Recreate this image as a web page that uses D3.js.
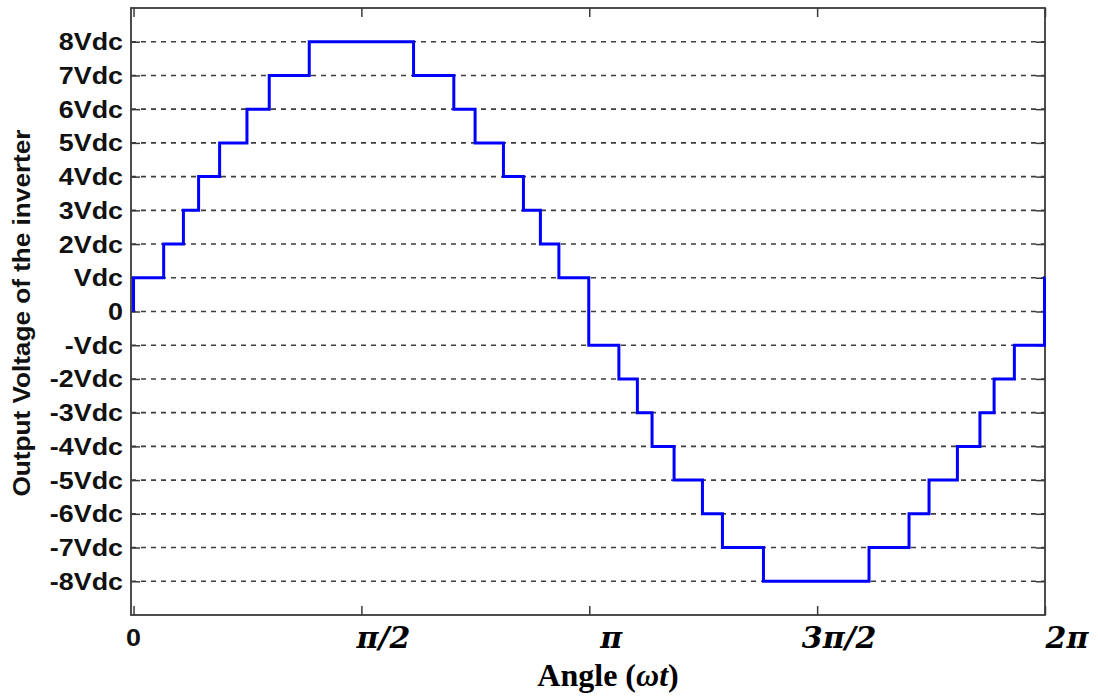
<!DOCTYPE html>
<html>
<head>
<meta charset="utf-8">
<script src="https://cdn.jsdelivr.net/npm/d3@7"></script>
<style>
  html, body { margin: 0; padding: 0; background: #fff; }
  svg { display: block; }
</style>
</head>
<body>
<svg id="chart" width="1098" height="699"></svg>
<script>
// ---- data ----
// switching angles (degrees) where the output level changes, and the level held after each
const switchAngles = [0, 0, 11.9, 19.7, 25.7, 34.0, 44.8, 53.6, 69.4,
  110.6, 126.5, 134.9, 146.1, 154.0, 160.7, 168.0, 179.8,
  191.7, 199.0, 204.8, 213.5, 224.7, 232.6, 248.8,
  290.5, 306.3, 314.2, 325.4, 334.3, 339.9, 347.9, 359.8, 360];
const levels = [0, 1, 2, 3, 4, 5, 6, 7, 8,
  7, 6, 5, 4, 3, 2, 1, -1,
  -2, -3, -4, -5, -6, -7, -8,
  -7, -6, -5, -4, -3, -2, -1, 1, 1];

const xTickValues = [0, 90, 180, 270, 360];
const xTickLabels = ["0", "π/2", "π", "3π/2", "2π"];
const yTickValues = [8, 7, 6, 5, 4, 3, 2, 1, 0, -1, -2, -3, -4, -5, -6, -7, -8];
const yTickLabels = ["8Vdc", "7Vdc", "6Vdc", "5Vdc", "4Vdc", "3Vdc", "2Vdc", "Vdc", "0",
  "-Vdc", "-2Vdc", "-3Vdc", "-4Vdc", "-5Vdc", "-6Vdc", "-7Vdc", "-8Vdc"];
const xTitle = "Angle";
const yTitle = "Output Voltage of the inverter";

// ---- layout ----
const L = 131, R = 1045, T = 8, B = 615;
const svg = d3.select("#chart");

const x = d3.scaleLinear().domain([-1, 360]).range([L, R]);
const y = d3.scaleLinear().domain([-9, 9]).range([B, T]);

const axisColor = "#3a3a3a";

// grid lines (dashed)
svg.append("g").selectAll("line").data(yTickValues).join("line")
  .attr("x1", L).attr("x2", R)
  .attr("y1", d => y(d)).attr("y2", d => y(d))
  .attr("stroke", "#3c3c3c").attr("stroke-width", 1.6)
  .attr("stroke-dasharray", "5,5");

// axes with inward ticks
const tick = 9;
svg.append("g").attr("transform", `translate(0,${B})`)
  .call(d3.axisBottom(x).tickValues(xTickValues).tickSizeInner(-tick).tickSizeOuter(0).tickFormat(""));
svg.append("g").attr("transform", `translate(0,${T})`)
  .call(d3.axisTop(x).tickValues(xTickValues).tickSizeInner(-tick).tickSizeOuter(0).tickFormat(""));
svg.append("g").attr("transform", `translate(${L},0)`)
  .call(d3.axisLeft(y).tickValues(yTickValues).tickSizeInner(-tick).tickSizeOuter(0).tickFormat(""));
svg.append("g").attr("transform", `translate(${R},0)`)
  .call(d3.axisRight(y).tickValues(yTickValues).tickSizeInner(-tick).tickSizeOuter(0).tickFormat(""));
svg.selectAll(".domain").remove();
svg.selectAll(".tick line").attr("stroke", axisColor).attr("stroke-width", 1.5);

// frame
svg.append("rect").attr("x", L).attr("y", T).attr("width", R - L).attr("height", B - T)
  .attr("fill", "none").attr("stroke", axisColor).attr("stroke-width", 1.8);

// step waveform
const pts = switchAngles.map((a, i) => [a, levels[i]]);
const line = d3.line().x(d => x(d[0])).y(d => y(d[1])).curve(d3.curveStepAfter);
svg.append("path").datum(pts)
  .attr("d", line)
  .attr("fill", "none").attr("stroke", "#0000ff").attr("stroke-width", 3)
  .attr("stroke-linejoin", "miter");

// y tick labels (bold sans, slightly wide)
svg.append("g").selectAll("text").data(yTickValues).join("text")
  .attr("transform", d => `translate(123,${y(d) + 8.5}) scale(1.12,1)`)
  .attr("text-anchor", "end")
  .attr("font-family", "'Liberation Sans', Arial, sans-serif")
  .attr("font-weight", "bold").attr("font-size", 24)
  .attr("fill", "#111")
  .text((d, i) => yTickLabels[i]);

// x tick labels
const xl = svg.append("g");
xTickValues.forEach((v, i) => {
  if (i === 0) {
    xl.append("text")
      .attr("transform", `translate(${x(v)},${646}) scale(1.12,1)`)
      .attr("text-anchor", "middle")
      .attr("font-family", "'Liberation Sans', Arial, sans-serif")
      .attr("font-weight", "bold").attr("font-size", 24).attr("fill", "#111")
      .text(xTickLabels[i]);
  } else {
    xl.append("text")
      .attr("x", x(v) + 22).attr("y", 648)
      .attr("text-anchor", "middle")
      .attr("font-family", "'DejaVu Serif', serif")
      .attr("font-weight", "bold").attr("font-style", "italic").attr("font-size", 30)
      .attr("fill", "#000")
      .text(xTickLabels[i]);
  }
});

// x title
const xt = svg.append("text")
  .attr("x", 608).attr("y", 686)
  .attr("text-anchor", "middle")
  .attr("font-family", "'Liberation Serif', 'Times New Roman', serif")
  .attr("font-weight", "bold").attr("font-size", 32).attr("fill", "#000");
xt.append("tspan").text(xTitle + " (");
xt.append("tspan").attr("font-style", "italic").text("ωt");
xt.append("tspan").text(")");

// y title
svg.append("text")
  .attr("transform", "translate(30,313) rotate(-90)")
  .attr("text-anchor", "middle")
  .attr("font-family", "'Liberation Sans', Arial, sans-serif")
  .attr("font-weight", "bold").attr("font-size", 24).attr("fill", "#111")
  .attr("textLength", 367).attr("lengthAdjust", "spacingAndGlyphs")
  .text(yTitle);
</script>
</body>
</html>
